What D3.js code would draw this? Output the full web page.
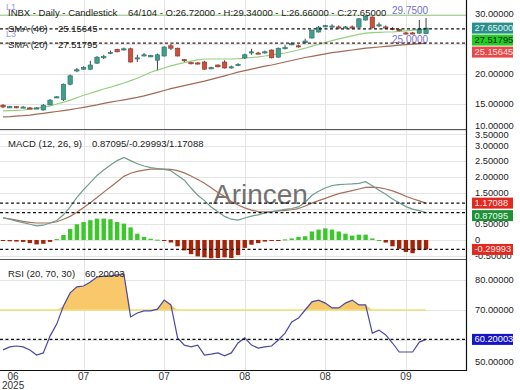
<!DOCTYPE html>
<html><head><meta charset="utf-8">
<script src="https://cdn.jsdelivr.net/npm/d3@7/dist/d3.min.js"></script>
<style>body{margin:0;background:#fff}svg{display:block;font-family:"Liberation Sans",Arial,sans-serif}</style>
</head><body><svg id="c" width="520" height="390"></svg>
<script>
// ---------- data ----------
const opens  = [14.8,14.5,14.55,14.5,14.35,14.3,14.0,14.85,16.1,15.7,18.3,20.6,20.8,20.8,21.8,22.7,23.4,24.1,24.1,24.2,22.6,23.1,23.0,22.3,23.0,24.7,24.3,22.4,21.9,21.85,22.0,21.0,21.5,22.0,21.1,21.4,22.7,23.6,23.5,23.65,24.0,22.8,24.3,25.0,24.7,25.2,26.0,27.0,27.9,27.95,27.85,27.8,27.85,27.8,29.0,29.5,28.1,27.85,27.6,27.4,26.85,26.85,26.8,26.72];
const highs  = [15.0,14.7,14.6,14.65,14.5,14.45,15.0,15.8,16.3,18.4,19.9,21.0,21.3,22.2,23.0,23.2,23.9,24.2,24.4,24.4,23.2,23.5,23.2,23.4,24.6,25.0,24.4,22.5,22.0,22.0,22.2,21.2,21.6,22.3,21.4,21.8,23.4,24.2,23.7,23.9,24.1,24.4,24.8,25.3,24.9,25.9,27.4,28.0,28.2,28.3,28.1,28.0,28.1,29.3,29.75,29.6,28.6,28.1,27.8,27.5,27.0,27.0,29.0,29.34];
const lows   = [14.3,14.4,14.3,14.35,14.2,14.15,13.9,14.8,16.0,15.5,18.1,20.3,20.7,20.7,21.7,22.5,23.3,23.6,23.9,21.9,22.0,22.9,22.8,20.7,22.9,24.0,22.9,22.0,21.6,21.6,20.7,20.8,21.1,20.9,20.9,21.3,22.5,23.2,23.3,23.4,22.6,22.7,24.1,24.8,24.4,25.1,25.9,26.9,27.8,27.7,27.6,27.6,27.6,27.7,28.9,27.6,27.8,27.5,27.3,27.1,26.6,26.6,26.7,26.66];
const closes = [14.5,14.55,14.5,14.5,14.3,14.35,14.8,15.65,16.2,18.3,19.7,20.7,21.1,21.5,22.8,22.9,23.6,23.7,24.2,22.0,22.7,23.2,23.05,23.2,24.5,24.3,23.0,22.2,21.8,21.8,20.8,21.05,21.2,21.0,21.2,21.6,23.2,23.7,23.45,23.7,22.7,24.3,24.4,25.05,24.65,25.5,27.3,27.8,28.05,28.0,27.8,27.85,27.8,29.2,29.6,27.7,28.2,27.8,27.4,27.25,26.8,26.8,27.5,27.65];
const sma20  = [13.85,13.9,13.95,14.0,14.1,14.3,14.45,14.7,15.0,15.3,15.65,16.05,16.45,16.8,17.15,17.5,17.8,18.15,18.5,18.9,19.3,19.8,20.3,20.65,21.0,21.35,21.65,21.9,22.15,22.35,22.5,22.5,22.5,22.5,22.5,22.55,22.65,22.75,22.85,23.0,23.2,23.35,23.5,23.75,24.0,24.3,24.65,24.95,25.25,25.55,25.85,26.1,26.35,26.6,26.8,26.9,26.95,27.0,27.0,27.1,27.2,27.3,27.4,27.51795];
const sma48  = [12.85,12.9,12.98,13.05,13.15,13.3,13.45,13.6,13.75,13.9,14.05,14.25,14.45,14.65,14.85,15.1,15.3,15.5,15.7,15.9,16.1,16.35,16.65,16.95,17.25,17.55,17.8,18.05,18.3,18.55,18.8,19.1,19.4,19.7,20.0,20.3,20.55,20.8,21.05,21.3,21.5,21.75,22.0,22.25,22.5,22.75,22.95,23.15,23.35,23.55,23.7,23.85,24.0,24.15,24.3,24.4,24.5,24.6,24.7,24.8,24.9,24.98,25.07,25.15645];
const macdLine   = [0.70,0.66,0.60,0.55,0.50,0.45,0.47,0.54,0.62,0.80,1.05,1.35,1.60,1.82,2.05,2.22,2.38,2.52,2.62,2.52,2.42,2.35,2.30,2.27,2.24,2.20,2.05,1.90,1.65,1.42,1.25,1.05,0.90,0.75,0.66,0.63,0.70,0.76,0.80,0.86,0.90,0.93,0.97,1.00,1.05,1.20,1.42,1.55,1.65,1.73,1.76,1.77,1.78,1.80,1.85,1.72,1.58,1.45,1.30,1.18,1.06,0.98,0.93,0.87095];
const signalLine = [0.70,0.67,0.63,0.59,0.56,0.54,0.54,0.54,0.58,0.66,0.75,0.88,1.03,1.18,1.35,1.52,1.68,1.85,2.02,2.12,2.18,2.22,2.25,2.25,2.25,2.24,2.20,2.13,2.03,1.92,1.80,1.66,1.51,1.38,1.22,1.11,1.02,0.95,0.90,0.89,0.90,0.92,0.94,0.96,1.00,1.08,1.17,1.25,1.32,1.40,1.47,1.52,1.57,1.62,1.67,1.68,1.66,1.62,1.56,1.48,1.39,1.31,1.24,1.17088];
const histogram  = [-0.02,-0.04,-0.05,-0.06,-0.10,-0.14,-0.12,-0.06,0.03,0.16,0.35,0.50,0.57,0.63,0.68,0.68,0.66,0.57,0.52,0.40,0.20,0.10,0.04,0.01,-0.01,-0.08,-0.20,-0.33,-0.45,-0.52,-0.55,-0.58,-0.57,-0.55,-0.57,-0.48,-0.25,-0.15,-0.10,-0.05,-0.03,-0.02,0.02,0.05,0.10,0.12,0.27,0.33,0.37,0.33,0.27,0.20,0.14,0.17,0.17,0.05,0.0,-0.08,-0.20,-0.28,-0.38,-0.42,-0.32,-0.29993];
const rsi = [56.7,57.7,58.0,57.7,56.7,55.0,55.7,61.3,65.3,71.3,75.7,77.7,78.0,79.3,81.0,81.3,81.3,81.7,82.0,67.7,69.0,69.7,69.7,70.3,73.3,71.7,60.7,58.3,57.7,58.3,55.0,55.3,55.7,54.7,55.7,59.0,60.7,58.3,57.3,57.7,58.0,60.0,62.3,66.0,67.3,70.0,72.7,73.3,72.3,70.7,70.7,72.3,73.3,71.7,71.7,62.3,63.3,61.7,59.0,56.0,56.0,56.0,59.3,60.20003];
const xTickIdx = [1.5,12,24,36,48,60];
const xTickLabels = ["06","07","07","08","08","09"];
const priceTicks = [10,15,20,25,30];
const macdTicks = [-0.5,0,0.5,1,1.5,2,2.5,3,3.5];
const rsiTicks = [50,60,70,80];
const periodHigh = 29.75, periodLow = 25.0;

// ---------- layout ----------
const svg = d3.select("#c");
const W = 466;
const x = d3.scaleLinear().domain([-0.45, 68.95]).range([0, W]);
const yP = d3.scaleLinear().domain([11, 32.3333]).range([128, 0]);
const yM = d3.scaleLinear().domain([-0.5714, 3.4921]).range([258, 130]);
const yR = d3.scaleLinear().domain([50, 86.6667]).range([370, 260]);
const fmt = v => v === 0 ? "0" : v.toFixed(5);
const idx = d3.range(closes.length);

// value boxes computed first so covered tick labels can be skipped
function stack(items, step){
  items.sort((a,b)=>a.y-b.y);
  let prev = -1e9;
  items.forEach(it=>{ it.yy = Math.max(it.y, prev+step); prev = it.yy; });
  return items;
}
const boxP = stack([
  {y:yP(closes[63]), bg:"#2a8f8c", fg:"#e0f4f4", t:"27.65000"},
  {y:yP(sma20[63]), bg:"#22cc22", fg:"#112211", t:"27.51795"},
  {y:yP(sma48[63]), bg:"#e84848", fg:"#ffe0e0", t:"25.15645"}], 12);
const boxM = stack([
  {y:yM(signalLine[63]), bg:"#e02a20", fg:"#ffe8e8", t:"1.17088"},
  {y:yM(macdLine[63]), bg:"#1f8f3a", fg:"#e8ffe8", t:"0.87095"}], 12.5)
  .concat(stack([{y:yM(histogram[63]), bg:"#e02a20", fg:"#ffe8e8", t:"-0.29993"}], 12));
const boxR = stack([{y:yR(rsi[63]), bg:"#1414c8", fg:"#ffffff", t:"60.20003"}], 12);
const allBoxes = boxP.concat(boxM, boxR);
const covered = y => allBoxes.some(b => Math.abs(b.yy - y) < 5.5);

// grids
function hGrid(scale, ticks, labelClamp){
  ticks.forEach(t=>{
    const y = Math.round(scale(t))+0.5;
    svg.append("line").attr("x1",0).attr("x2",W).attr("y1",y).attr("y2",y).attr("stroke","#e4e4e4");
    const ly = Math.max(labelClamp[0], Math.min(labelClamp[1], scale(t)));
    if(covered(ly)) return;
    svg.append("text").attr("x",475).attr("y",ly).attr("dominant-baseline","central")
      .attr("font-size",9.3).attr("fill","#222").text(fmt(t));
  });
}
hGrid(yP, priceTicks, [5,126]);
hGrid(yM, macdTicks, [135,256]);
hGrid(yR, rsiTicks, [265,362]);
xTickIdx.forEach((t,i)=>{
  const xx = Math.round(x(t))+0.5;
  if(i>0) svg.append("line").attr("x1",xx).attr("x2",xx).attr("y1",0).attr("y2",370).attr("stroke","#e4e4e4");
  svg.append("text").attr("x",x(t)).attr("y",376).attr("text-anchor","middle").attr("dominant-baseline","central")
    .attr("font-size",10).attr("fill","#333").text(xTickLabels[i]);
});
svg.append("text").attr("x",x(xTickIdx[0])).attr("y",385).attr("text-anchor","middle").attr("dominant-baseline","central")
  .attr("font-size",10).attr("fill","#333").text("2025");

// ---------- price panel ----------
const gP = svg.append("g");
gP.append("line").attr("x1",0).attr("x2",W).attr("y1",yP(periodHigh)).attr("y2",yP(periodHigh)).attr("stroke","#a8d890").attr("stroke-width",1.2);
const lineP = arr => d3.line().x((d,i)=>x(i)).y(d=>yP(d))(arr);
gP.append("path").attr("d",lineP(sma48)).attr("fill","none").attr("stroke","#a06a55").attr("stroke-width",1.2);
gP.append("path").attr("d",lineP(sma20)).attr("fill","none").attr("stroke","#95cf80").attr("stroke-width",1.2);
idx.forEach(i=>{
  const up = closes[i] >= opens[i];
  const col = up ? "#3f9e8e" : "#c9523f";
  const cx = x(i);
  gP.append("line").attr("x1",cx).attr("x2",cx).attr("y1",yP(highs[i])).attr("y2",yP(lows[i])).attr("stroke","#444").attr("stroke-width",1);
  const y1 = yP(Math.max(opens[i],closes[i])), y2 = yP(Math.min(opens[i],closes[i]));
  gP.append("rect").attr("x",cx-2.2).attr("width",4.4).attr("y",y1).attr("height",Math.max(1.2,y2-y1))
    .attr("fill",col).attr("stroke",up?"#2b6e63":"#8e3426").attr("stroke-width",0.6);
});
function dotted(y, col){ svg.append("line").attr("x1",0).attr("x2",W).attr("y1",y).attr("y2",y)
  .attr("stroke",col).attr("stroke-width",1.3).attr("stroke-dasharray","3,2.5"); }
dotted(yP(sma20[63]), "#111");
dotted(yP(sma48[63]), "#3a1a1a");
gP.append("text").attr("x",392).attr("y",10).attr("dominant-baseline","central").attr("font-size",10).attr("fill","#6f6fd0").text(periodHigh.toFixed(4));
gP.append("text").attr("x",392).attr("y",39).attr("dominant-baseline","central").attr("font-size",10).attr("fill","#8070d0").text(periodLow.toFixed(4));
gP.append("text").attr("x",6).attr("y",10).attr("font-size",9).attr("fill","#9a9ae0").text("L1");
gP.append("text").attr("x",6).attr("y",37).attr("font-size",9).attr("fill","#9a9ae0").text("L3");
const hdr = (xx,y,t)=>svg.append("text").attr("x",xx).attr("y",y).attr("font-size",9.5).attr("fill","#222").text(t);
hdr(8,16,"INBX - Daily - Candlestick");
hdr(128,16,"64/104 - O:26.72000 - H:29.34000 - L:26.66000 - C:27.65000");
hdr(8,32,"SMA (48)"); hdr(58,32,"25.15645");
hdr(8,48,"SMA (20)"); hdr(58,48,"27.51795");

// ---------- MACD panel ----------
svg.append("text").attr("x",213).attr("y",204).attr("font-size",28).attr("fill","#5a5a5a").attr("opacity",0.85).text("Arincen");
idx.forEach(i=>{
  const v = histogram[i];
  const y0 = yM(0), y1 = yM(v);
  svg.append("rect").attr("x",x(i)-2.2).attr("width",4.4).attr("y",Math.min(y0,y1)).attr("height",Math.max(1,Math.abs(y1-y0)))
    .attr("fill", v>=0 ? "#3cc82a" : "#a52408");
});
const lineM = arr => d3.line().x((d,i)=>x(i)).y(d=>yM(d))(arr);
svg.append("path").attr("d",lineM(signalLine)).attr("fill","none").attr("stroke","#a8705a").attr("stroke-width",1.2);
svg.append("path").attr("d",lineM(macdLine)).attr("fill","none").attr("stroke","#6f9c8e").attr("stroke-width",1.2);
dotted(yM(signalLine[63]), "#111");
dotted(yM(macdLine[63]), "#111");
dotted(yM(histogram[63]), "#111");
hdr(8,147,"MACD (12, 26, 9)"); hdr(92,147,"0.87095/-0.29993/1.17088");

// ---------- RSI panel ----------
const area = d3.area().x((d,i)=>x(i)).y0(yR(70)).y1(d=>yR(Math.max(70,d)));
svg.append("path").attr("d",area(rsi)).attr("fill","#f8c86a");
svg.append("line").attr("x1",0).attr("x2",x(63)).attr("y1",yR(70)).attr("y2",yR(70)).attr("stroke","#ece07a").attr("stroke-width",1.5);
svg.append("path").attr("d",d3.line().x((d,i)=>x(i)).y(d=>yR(d))(rsi)).attr("fill","none").attr("stroke","#4a4aa0").attr("stroke-width",1.2);
dotted(yR(rsi[63]), "#111");
hdr(8,277,"RSI (20, 70, 30)"); hdr(85,277,"60.20003");

// ---------- frame ----------
svg.append("line").attr("x1",0).attr("x2",W).attr("y1",129.5).attr("y2",129.5).attr("stroke","#555");
svg.append("line").attr("x1",0).attr("x2",W).attr("y1",259.5).attr("y2",259.5).attr("stroke","#555");
svg.append("line").attr("x1",0).attr("x2",W+0.5).attr("y1",370.5).attr("y2",370.5).attr("stroke","#111").attr("stroke-width",1.2);
svg.append("line").attr("x1",W+0.5).attr("x2",W+0.5).attr("y1",0).attr("y2",371).attr("stroke","#111").attr("stroke-width",1.2);

// ---------- value boxes ----------
allBoxes.forEach(it=>{
  svg.append("rect").attr("x",472).attr("y",it.yy-5.5).attr("width",41).attr("height",11).attr("fill",it.bg);
  svg.append("text").attr("x",474.5).attr("y",it.yy).attr("dominant-baseline","central").attr("font-size",9.3).attr("fill",it.fg).text(it.t);
});
</script></body></html>
